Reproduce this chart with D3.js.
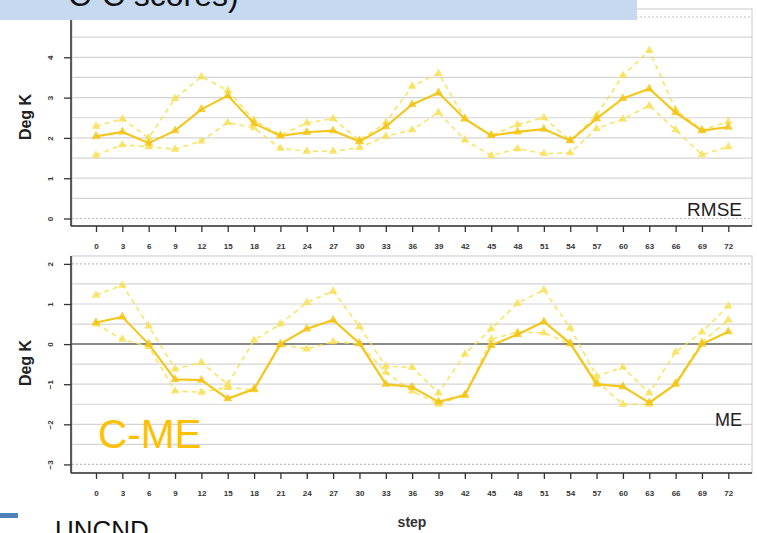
<!DOCTYPE html>
<html>
<head>
<meta charset="utf-8">
<script src="https://cdn.jsdelivr.net/npm/d3@7"></script>
<style>
  html, body { margin: 0; padding: 0; background: #ffffff; }
  svg { display: block; font-family: "Liberation Sans", Arial, sans-serif; }
</style>
</head>
<body>
<svg id="chart" width="757" height="533"></svg>
<script>
// Forecast steps (hours)
const steps = [0, 3, 6, 9, 12, 15, 18, 21, 24, 27, 30, 33, 36, 39, 42, 45, 48, 51, 54, 57, 60, 63, 66, 69, 72];

// RMSE (Deg K): central estimate and the upper / lower dashed curves
const rmseMid  = [2.04, 2.15, 1.87, 2.18, 2.71, 3.05, 2.36, 2.05, 2.14, 2.18, 1.91, 2.28, 2.83, 3.12, 2.47, 2.06, 2.15, 2.22, 1.93, 2.48, 2.98, 3.22, 2.63, 2.18, 2.27];
const rmseHigh = [2.29, 2.47, 2.00, 2.98, 3.52, 3.18, 2.44, 2.07, 2.37, 2.48, 1.94, 2.38, 3.28, 3.60, 2.48, 2.06, 2.33, 2.50, 1.94, 2.56, 3.55, 4.17, 2.70, 2.20, 2.40];
const rmseLow  = [1.57, 1.83, 1.78, 1.72, 1.92, 2.38, 2.25, 1.74, 1.67, 1.67, 1.76, 2.04, 2.20, 2.63, 1.95, 1.56, 1.73, 1.61, 1.63, 2.23, 2.47, 2.80, 2.20, 1.58, 1.78];

// ME (Deg K)
const meMid  = [0.54, 0.68, 0.00, -0.88, -0.90, -1.36, -1.12, 0.00, 0.38, 0.60, 0.02, -1.00, -1.07, -1.44, -1.27, -0.03, 0.24, 0.56, 0.02, -1.00, -1.06, -1.46, -1.00, 0.00, 0.31];
const meHigh = [1.22, 1.47, 0.45, -0.62, -0.46, -1.00, 0.10, 0.50, 1.04, 1.32, 0.44, -0.55, -0.58, -1.22, -0.25, 0.38, 1.02, 1.35, 0.40, -0.80, -0.58, -1.22, -0.20, 0.30, 0.95];
const meLow  = [0.50, 0.12, -0.06, -1.17, -1.20, -1.08, -1.14, -0.02, -0.12, 0.06, 0.00, -0.70, -1.17, -1.50, -1.27, 0.12, 0.30, 0.28, 0.00, -0.92, -1.50, -1.50, -0.96, 0.05, 0.60];

// Axis tick values
const rmseTicks = [0, 1, 2, 3, 4];
const meTicks = [2, 1, 0, -1, -2, -3];
const rmseGrid = d3.range(0, 5.01, 0.5);
const meGrid = d3.range(-3, 2.01, 0.5);

const svg = d3.select("#chart");

const x = d3.scaleLinear().domain([0, 72]).range([96, 728.3]);

const panels = [
  { name: "RMSE", top: 9, bottom: 226, domain: [-0.186, 5.199], ticks: rmseTicks, grid: rmseGrid,
    series: [rmseHigh, rmseLow, rmseMid], zero: false, labelY: 216, labelSize: 19, yLabelCenter: 117 },
  { name: "ME", top: 256, bottom: 473, domain: [-3.214, 2.197], ticks: meTicks, grid: meGrid,
    series: [meHigh, meLow, meMid], zero: true, labelY: 426, labelSize: 18, yLabelCenter: 363 }
];

const left = 72, right = 752;
const midColor = "#f2c414";
const bandColor = "#f7df4c";

panels.forEach(p => {
  const y = d3.scaleLinear().domain(p.domain).range([p.bottom, p.top]);
  const g = svg.append("g");

  // plot frame
  g.append("rect")
    .attr("x", left).attr("y", p.top)
    .attr("width", right - left).attr("height", p.bottom - p.top)
    .attr("fill", "none").attr("stroke", "#c8c8c8").attr("stroke-width", 1);

  // horizontal grid
  const [gmin, gmax] = d3.extent(p.grid);
  g.selectAll("line.grid").data(p.grid).join("line")
    .attr("class", "grid")
    .attr("x1", left).attr("x2", right)
    .attr("y1", d => y(d)).attr("y2", d => y(d))
    .attr("stroke", d => (d === gmin || d === gmax) ? "#bdbdbd" : "#d4d4d4")
    .attr("stroke-width", 1.2)
    .attr("stroke-dasharray", d => (d === gmin || d === gmax) ? "2,2" : null);

  if (p.zero) {
    g.append("line")
      .attr("x1", left).attr("x2", right)
      .attr("y1", y(0)).attr("y2", y(0))
      .attr("stroke", "#8a8a8a").attr("stroke-width", 2);
  }

  // series: dashed bounds first, solid central line on top
  p.series.forEach((vals, i) => {
    const isMid = i === 2;
    const color = isMid ? midColor : bandColor;
    const pts = steps.map((s, k) => [s, vals[k]]);
    g.append("path")
      .datum(pts)
      .attr("fill", "none")
      .attr("stroke", color)
      .attr("stroke-width", isMid ? 2.2 : 1.6)
      .attr("stroke-dasharray", isMid ? null : "5,4")
      .attr("stroke-opacity", isMid ? 0.95 : 0.85)
      .attr("d", d3.line().x(d => x(d[0])).y(d => y(d[1])));
    g.selectAll(null).data(pts).join("path")
      .attr("transform", d => `translate(${x(d[0])},${y(d[1])})`)
      .attr("d", d3.symbol().type(d3.symbolTriangle).size(isMid ? 36 : 32))
      .attr("fill", color)
      .attr("fill-opacity", 0.8);
  });

  // left axis
  const ya = g.append("g")
    .attr("transform", `translate(${left - 1},0)`)
    .call(d3.axisLeft(y).tickValues(p.ticks).tickSize(7).tickFormat(d3.format("d")));
  ya.select(".domain").remove();
  ya.selectAll(".tick line").attr("stroke", "#333").attr("stroke-width", 1.3);
  ya.selectAll(".tick text")
    .attr("x", null).attr("dy", null)
    .attr("text-anchor", "middle")
    .attr("dominant-baseline", "central")
    .attr("transform", "translate(-21,0) rotate(-90)")
    .attr("font-size", 8).attr("font-weight", "bold").attr("fill", "#333");
  g.append("line")
    .attr("x1", left - 1).attr("x2", left - 1)
    .attr("y1", p.top).attr("y2", p.bottom)
    .attr("stroke", "#333").attr("stroke-width", 1.6);

  // bottom axis
  const xa = g.append("g")
    .attr("transform", `translate(0,${p.bottom})`)
    .call(d3.axisBottom(x).tickValues(steps).tickSize(6).tickPadding(11).tickSizeOuter(0));
  xa.select(".domain").remove();
  xa.selectAll(".tick line").attr("stroke", "#333").attr("stroke-width", 1.3);
  xa.selectAll(".tick text")
    .attr("font-size", 8).attr("font-weight", "bold").attr("fill", "#333");
  g.append("line")
    .attr("x1", left - 1).attr("x2", right)
    .attr("y1", p.bottom).attr("y2", p.bottom)
    .attr("stroke", "#333").attr("stroke-width", 1.6);

  // y axis title
  g.append("text")
    .attr("transform", `translate(25,${p.yLabelCenter}) rotate(-90)`)
    .attr("text-anchor", "middle")
    .attr("dominant-baseline", "central")
    .attr("font-size", 16).attr("font-weight", "bold").attr("fill", "#222")
    .text("Deg K");

  // panel name
  g.append("text")
    .attr("x", 742).attr("y", p.labelY)
    .attr("text-anchor", "end")
    .attr("font-size", p.labelSize).attr("fill", "#222")
    .text(p.name);
});

// x axis title
svg.append("text")
  .attr("x", 412).attr("y", 527)
  .attr("text-anchor", "middle")
  .attr("font-size", 14).attr("font-weight", "bold").attr("fill", "#333")
  .text("step");

// slide title banner (its heading runs off the top edge of the slide)
svg.append("rect")
  .attr("x", 0).attr("y", 0).attr("width", 637).attr("height", 20)
  .attr("fill", "#c6d9f1");
svg.append("text")
  .attr("x", 68).attr("y", 6)
  .attr("font-size", 32).attr("fill", "#111")
  .text("C-C scores)");

// slide annotations
svg.append("text")
  .attr("x", 98).attr("y", 448)
  .attr("font-size", 40.5).attr("fill", "#ffc000")
  .text("C-ME");

svg.append("rect")
  .attr("x", 0).attr("y", 513).attr("width", 18).attr("height", 5)
  .attr("fill", "#4f81bd");
svg.append("text")
  .attr("x", 55).attr("y", 539)
  .attr("font-size", 26).attr("fill", "#111")
  .text("UNCND");
</script>
</body>
</html>
